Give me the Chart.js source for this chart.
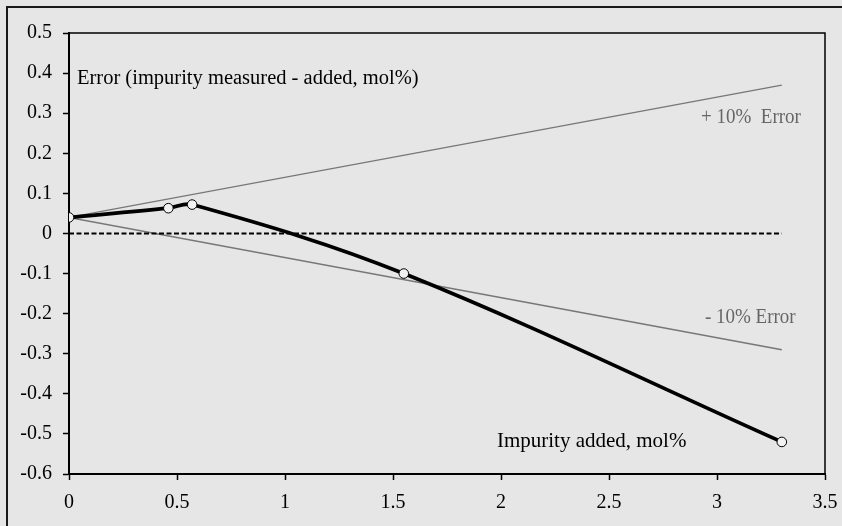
<!DOCTYPE html>
<html>
<head>
<meta charset="utf-8">
<script src="https://cdn.jsdelivr.net/npm/chart.js@4.4.1/dist/chart.umd.min.js"></script>
<style>
  html, body { margin: 0; padding: 0; background: #e6e6e6; }
  #wrap { width: 842px; height: 526px; position: relative; }
</style>
</head>
<body>
<div id="wrap"><canvas id="c" width="842" height="526"></canvas></div>
<script>
// ---- Data ----
const impurityAdded = [0, 0.46, 0.57, 1.55, 3.3];
const errorMeasured = [0.04, 0.063, 0.072, -0.10, -0.52];
const errorLineX = [0, 3.3];
const plusTenPct = [0.04, 0.37];
const minusTenPct = [0.04, -0.29];
const zeroLineX = [0, 3.3];
const zeroLineY = [0, 0];
const xTickValues = [0, 0.5, 1, 1.5, 2, 2.5, 3, 3.5];
const xTickLabels = ["0", "0.5", "1", "1.5", "2", "2.5", "3", "3.5"];
const yTickValues = [-0.6, -0.5, -0.4, -0.3, -0.2, -0.1, 0, 0.1, 0.2, 0.3, 0.4, 0.5];
const yTickLabels = ["-0.6", "-0.5", "-0.4", "-0.3", "-0.2", "-0.1", "0", "0.1", "0.2", "0.3", "0.4", "0.5"];
const annotationTexts = [
  { text: "Error (impurity measured - added, mol%)", x: 0.037, y: 0.373, color: "#000000", size: 20.5, sx: 1.0 },
  { text: "+ 10%  Error", x: 2.926, y: 0.275, color: "#666666", size: 20, sx: 0.95 },
  { text: "- 10% Error", x: 2.944, y: -0.224, color: "#666666", size: 20, sx: 0.95 },
  { text: "Impurity added, mol%", x: 1.981, y: -0.532, color: "#000000", size: 21, sx: 1.0 }
];

const toXY = (xs, ys) => xs.map((x, i) => ({ x: x, y: ys[i] }));

const FONT = '"Liberation Serif", "Times New Roman", serif';

const bgPlugin = {
  id: 'bg',
  beforeDraw(chart) {
    const ctx = chart.ctx;
    ctx.save();
    ctx.fillStyle = '#e6e6e6';
    ctx.fillRect(0, 0, chart.width, chart.height);
    ctx.strokeStyle = '#1a1a1a';
    ctx.lineWidth = 2;
    ctx.strokeRect(7, 7, chart.width + 40, chart.height + 40);
    ctx.restore();
  },
  afterDraw(chart) {
    const ctx = chart.ctx;
    const a = chart.chartArea;
    ctx.save();
    ctx.strokeStyle = '#000';
    ctx.lineWidth = 1.5;
    ctx.beginPath();
    ctx.moveTo(a.left, a.top);
    ctx.lineTo(a.right, a.top);
    ctx.lineTo(a.right, a.bottom);
    ctx.stroke();
    const xs = chart.scales.x, ys = chart.scales.y;
    ctx.textBaseline = 'alphabetic';
    ctx.textAlign = 'left';
    annotationTexts.forEach(t => {
      ctx.save();
      ctx.font = t.size + 'px ' + FONT;
      ctx.fillStyle = t.color;
      ctx.translate(xs.getPixelForValue(t.x), ys.getPixelForValue(t.y));
      ctx.scale(t.sx, 1);
      ctx.fillText(t.text, 0, 0);
      ctx.restore();
    });
    ctx.restore();
  }
};

new Chart(document.getElementById('c'), {
  type: 'line',
  data: {
    datasets: [
      {
        label: 'Error',
        data: toXY(impurityAdded, errorMeasured),
        borderColor: '#000',
        borderWidth: 3.7,
        tension: 0.35,
        pointRadius: 4.8,
        pointBackgroundColor: '#f2f2f2',
        pointBorderColor: '#000',
        pointBorderWidth: 1,
        order: 0
      },
      {
        label: 'zero',
        data: toXY(zeroLineX, zeroLineY),
        borderColor: '#000',
        borderWidth: 2,
        borderDash: [5, 2.5],
        pointRadius: 0,
        order: 1
      },
      {
        label: '+10%',
        data: toXY(errorLineX, plusTenPct),
        borderColor: '#777777',
        borderWidth: 1.4,
        pointRadius: 0,
        order: 2
      },
      {
        label: '-10%',
        data: toXY(errorLineX, minusTenPct),
        borderColor: '#777777',
        borderWidth: 1.4,
        pointRadius: 0,
        order: 3
      }
    ]
  },
  options: {
    responsive: false,
    animation: false,
    layout: { padding: { top: 33, right: 17, left: 0, bottom: 0 } },
    plugins: { legend: { display: false }, tooltip: { enabled: false } },
    scales: {
      x: {
        type: 'linear',
        min: 0, max: 3.5,
        afterBuildTicks: s => { s.ticks = xTickValues.map(v => ({ value: v })); },
        afterFit: s => { s.height = 52; s.paddingLeft = 0; s.paddingRight = 0; },
        ticks: {
          color: '#000',
          font: { family: FONT, size: 20 },
          padding: 11,
          maxRotation: 0,
          autoSkip: false,
          callback: (v, i) => xTickLabels[i]
        },
        grid: { display: true, drawOnChartArea: false, drawTicks: true, tickLength: 6, tickColor: '#000', tickWidth: 1.5 },
        border: { display: true, color: '#000', width: 2 }
      },
      y: {
        type: 'linear',
        min: -0.6, max: 0.5,
        afterBuildTicks: s => { s.ticks = yTickValues.map(v => ({ value: v })); },
        afterFit: s => { s.width = 69; s.paddingTop = 0; s.paddingBottom = 0; },
        ticks: {
          color: '#000',
          font: { family: FONT, size: 20 },
          padding: 11,
          autoSkip: false,
          callback: (v, i) => yTickLabels[i]
        },
        grid: { display: true, drawOnChartArea: false, drawTicks: true, tickLength: 6, tickColor: '#000', tickWidth: 1.5 },
        border: { display: true, color: '#000', width: 2 }
      }
    }
  },
  plugins: [bgPlugin]
});
</script>
</body>
</html>
